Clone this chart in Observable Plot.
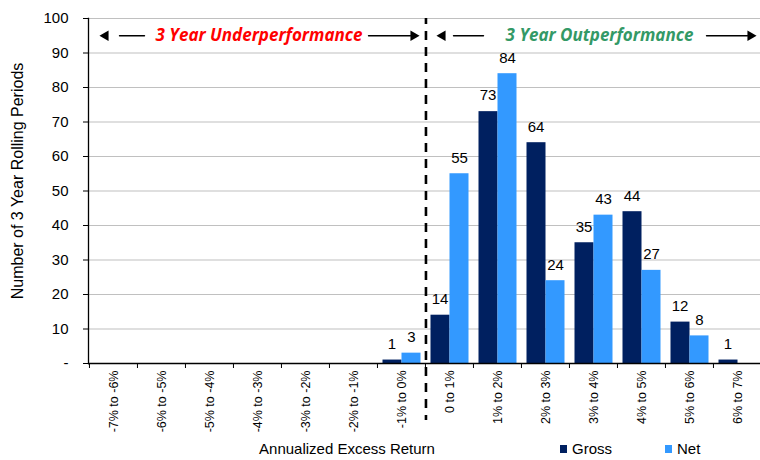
<!DOCTYPE html>
<html>
<head>
<meta charset="utf-8">
<script src="https://cdn.jsdelivr.net/npm/d3@7"></script>
<script src="https://cdn.jsdelivr.net/npm/@observablehq/plot@0.6"></script>
<style>
  body { margin: 0; background: #fff; font-family: "Liberation Sans", Arial, sans-serif; }
  #wrap { position: relative; width: 760px; height: 460px; overflow: hidden; }
  .xtitle { position: absolute; top: 440px; left: 247px; width: 200px; text-align: center; font-size: 15px; line-height: 17px; color: #000; }
  .leg { position: absolute; top: 440px; font-size: 15px; line-height: 17px; color: #000; }
  .sw { position: absolute; width: 7px; height: 8px; top: 5px; }
</style>
</head>
<body>
<div id="wrap"></div>
<script>
const categories = ["-7% to -6%", "-6% to -5%", "-5% to -4%", "-4% to -3%", "-3% to -2%", "-2% to -1%", "-1% to 0%",
                    "0 to 1%", "1% to 2%", "2% to 3%", "3% to 4%", "4% to 5%", "5% to 6%", "6% to 7%"];
const gross = [0, 0, 0, 0, 0, 0, 1, 14, 73, 64, 35, 44, 12, 1];
const net   = [0, 0, 0, 0, 0, 0, 3, 55, 84, 24, 43, 27, 8, 0];
const yTicks = [0, 10, 20, 30, 40, 50, 60, 70, 80, 90, 100];
const seriesNames = ["Gross", "Net"];
const seriesColors = ["#002060", "#3399FF"];
const zoneLabels = ["3 Year Underperformance", "3 Year Outperformance"];
const zoneColors = ["#FF0000", "#339966"];
const yAxisLabel = "Number of 3 Year Rolling Periods";
const xAxisLabel = "Annualized Excess Return";

const rows = categories.flatMap((c, i) => [
  {cat: c, series: seriesNames[0], value: gross[i]},
  {cat: c, series: seriesNames[1], value: net[i]}
]);
const grossRows = rows.filter(d => d.series === seriesNames[0]);
const netRows = rows.filter(d => d.series === seriesNames[1]);

const W = 760, H = 460, mL = 88, mR = -1;
const half = (W - mR - mL) / categories.length / 2;
const annY = 95;

function arrowMarks(fromCat, toCat, insetStart, insetEnd, headDx, rot) {
  return [
    Plot.arrow([{a: fromCat, b: toCat}], {
      x1: "a", x2: "b", y1: () => annY, y2: () => annY,
      insetStart, insetEnd, headLength: 0, stroke: "#000", strokeWidth: 1.4
    }),
    Plot.dot([{b: toCat}], {
      x: "b", y: () => annY, dx: headDx, symbol: "triangle", r: 3.9,
      rotate: rot, fill: "#000", stroke: "none"
    })
  ];
}

const annFont = {fontFamily: "'Open Sans', Lato, sans-serif", fontWeight: "bold", fontStyle: "italic", fontSize: 17};

const chart = Plot.plot({
  width: W, height: H,
  marginLeft: mL, marginRight: mR, marginTop: 18, marginBottom: 97,
  style: {fontFamily: "'Liberation Sans', Arial, sans-serif", fontSize: "15px", background: "transparent", color: "#000"},
  x: {type: "band", domain: categories, padding: 0},
  y: {domain: [0, 100]},
  marks: [
    Plot.gridY(yTicks.filter(d => d > 0), {stroke: "#c0c0c0", strokeOpacity: 1, strokeWidth: 1.2}),
    Plot.barY(grossRows, {x: "cat", y: "value", fill: seriesColors[0], insetLeft: 5.5, insetRight: 23.5}),
    Plot.barY(netRows, {x: "cat", y: "value", fill: seriesColors[1], insetLeft: 24.5, insetRight: 4.5}),
    Plot.text(grossRows.filter(d => d.value > 0), {x: "cat", y: "value", text: d => String(d.value), dx: -9.5, dy: -16, fontSize: 15, fill: "#000"}),
    Plot.text(netRows.filter(d => d.value > 0), {x: "cat", y: "value", text: d => String(d.value), dx: 10, dy: -16, fontSize: 15, fill: "#000"}),
    Plot.ruleY([0], {stroke: "#000", strokeWidth: 1.3}),
    Plot.frame({anchor: "left", stroke: "#000", strokeWidth: 1.3}),
    Plot.axisY({ticks: yTicks, tickFormat: d => d === 0 ? "-" : String(d), tickSize: 5, tickPadding: 15, fontSize: 15, label: null}),
    Plot.axisX({tickSize: 5, dx: -half, tickFormat: () => "", label: null}),
    Plot.axisX({tickSize: 0, tickPadding: 7, tickRotate: -90, fontSize: 12.5, label: null}),
    Plot.text([yAxisLabel], {frameAnchor: "left", textAnchor: "middle", text: d => d, rotate: -90, dx: -71, dy: -10, fontSize: 16, fill: "#000"}),
    Plot.ruleX([categories[7]], {dx: -half + 0.5, insetBottom: -57, stroke: "#000", strokeWidth: 2.6, strokeDasharray: "9,7", strokeDashoffset: 3}),
    ...arrowMarks(categories[1], categories[0], 17, 6, -8, -90),
    ...arrowMarks(categories[5], categories[6], 15, -9, 12, 90),
    ...arrowMarks(categories[8], categories[7], 14, 4, -7, -90),
    ...arrowMarks(categories[12], categories[13], 17, -10, 13, 90),
    Plot.text([zoneLabels[0]], {x: () => categories[3], y: () => annY, text: d => d, dx: 1.5, fill: zoneColors[0], ...annFont}),
    Plot.text([zoneLabels[1]], {x: () => categories[10], y: () => annY, text: d => d, dx: 6, fill: zoneColors[1], ...annFont})
  ]
});

const wrap = document.getElementById("wrap");
wrap.appendChild(chart);

const xt = document.createElement("div");
xt.className = "xtitle";
xt.textContent = xAxisLabel;
wrap.appendChild(xt);

const legendLeft = [560, 665];
seriesNames.forEach((name, i) => {
  const item = document.createElement("div");
  item.className = "leg";
  item.style.left = legendLeft[i] + "px";
  item.style.paddingLeft = "12px";
  const sw = document.createElement("span");
  sw.className = "sw";
  sw.style.left = "0px";
  sw.style.background = seriesColors[i];
  item.appendChild(sw);
  item.appendChild(document.createTextNode(name));
  wrap.appendChild(item);
});
</script>
</body>
</html>
